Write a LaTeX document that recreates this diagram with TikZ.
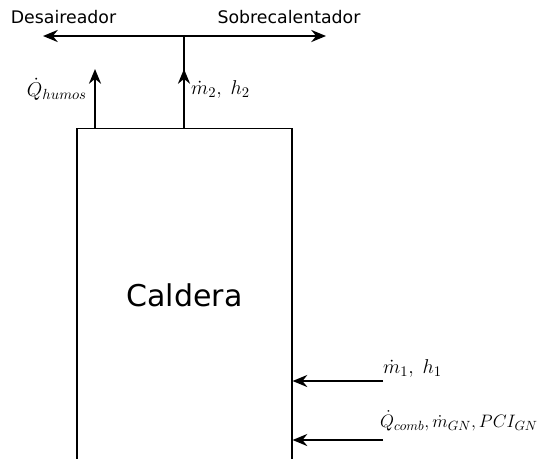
\RequirePackage{fix-cm}
\documentclass[tikz,border=0pt]{standalone}
\usepackage{fontspec}
\setmainfont{DejaVu Sans}
\usetikzlibrary{arrows.meta}
\DeclareMathSizes{15}{15}{11}{8}
\DeclareMathSizes{13.5}{13.5}{10}{7.5}
\begin{document}
\begin{tikzpicture}[x=0.75pt,y=-0.75pt,>={Stealth[length=11pt,width=9pt]},line width=1.8pt,
  caja/.style={draw,line width=1.1pt,minimum width=161pt,minimum height=250pt,inner sep=0pt,font=\fontsize{22.5}{26}\selectfont},
  texto/.style={font=\fontsize{13}{15}\selectfont,inner sep=0pt},
  etiq/.style={font=\fontsize{15}{18}\selectfont,inner sep=0pt}]
  \clip (0,0) rectangle (538,458);

  % caldera
  \node[caja] (caldera) at (184.5,295) {Caldera};

  \coordinate (T) at (184,36);
  \coordinate (desa) at (43,36);
  \coordinate (sobre) at (326,36);
  \coordinate (humos) at (95,69);
  \coordinate (sal) at (184,69);
  \coordinate (e1) at (383,381);
  \coordinate (e2) at (383,440);

  % salidas
  \draw[->] (T) -- (desa);
  \draw[->] (T) -- (sobre);
  \draw (caldera.north -| T) -- (T);
  \draw[->] (caldera.north -| sal) -- (sal);
  \draw[->] (caldera.north -| humos) -- (humos);

  % entradas
  \draw[->] (e1) -- (e1 -| caldera.east);
  \draw[->] (e2) -- (e2 -| caldera.east);

  % etiquetas
  \node[texto] at (63.5,17) {Desaireador};
  \node[texto] at (289,17) {Sobrecalentador};
  \node[etiq,anchor=east] at (88,89) {$\dot{Q}_{humos}$};
  \node[etiq,anchor=west] at (190,89) {$\dot{m}_2,\; h_2$};
  \node[etiq,anchor=west] at (382,368) {$\dot{m}_1,\; h_1$};
  \node[etiq,anchor=west,font=\fontsize{13.5}{16}\selectfont] at (379,421) {$\dot{Q}_{comb}, \dot{m}_{GN}, PCI_{GN}$};
\end{tikzpicture}
\end{document}
